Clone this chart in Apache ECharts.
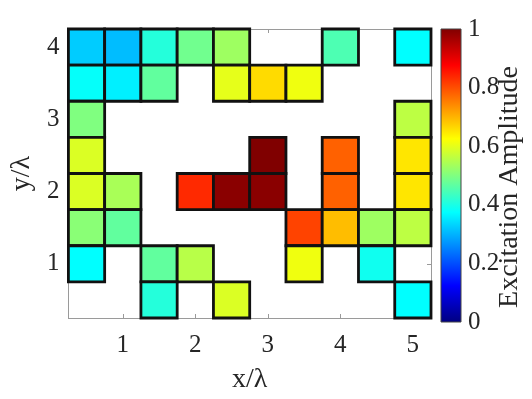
<!DOCTYPE html>
<html>
<head>
<meta charset="utf-8">
<script src="https://cdn.jsdelivr.net/npm/echarts@6/dist/echarts.min.js"></script>
<style>
html, body { margin: 0; padding: 0; background: #fff; }
#chart { width: 532px; height: 399px; }
</style>
</head>
<body>
<div id="chart"></div>
<script>
// cell centres (in wavelengths) and amplitudes, rows from top (y=4) to bottom (y=0.5)
var xCenters = [0.5, 1.0, 1.5, 2.0, 2.5, 3.0, 3.5, 4.0, 4.5, 5.0];
var yCenters = [4.0, 3.5, 3.0, 2.5, 2.0, 1.5, 1.0, 0.5];
var amplitude = [
    [0.325, 0.31, 0.41, 0.485, 0.53, null, null, 0.45, null, 0.375],
    [0.38, 0.36, 0.47, null, 0.60, 0.66, 0.61, null, null, null],
    [0.50, null, null, null, null, null, null, null, null, 0.56],
    [0.59, null, null, null, null, 1.00, null, 0.78, null, 0.65],
    [0.59, 0.54, null, 0.835, 0.99, 0.99, null, 0.78, null, 0.65],
    [0.51, 0.47, null, null, null, null, 0.81, 0.69, 0.53, 0.56],
    [0.375, null, 0.47, 0.555, null, null, 0.61, null, 0.39, null],
    [null, null, 0.41, null, 0.59, null, null, null, null, 0.375]
];
var xTicks = [1, 2, 3, 4, 5];
var yTicks = [1, 2, 3, 4];
var jet = ['#000080', '#0000ff', '#0080ff', '#00ffff', '#80ff80', '#ffff00', '#ff8000', '#ff0000', '#800000'];

var cells = [];
for (var r = 0; r < amplitude.length; r++) {
    for (var c = 0; c < amplitude[r].length; c++) {
        if (amplitude[r][c] !== null) cells.push([xCenters[c], yCenters[r], amplitude[r][c]]);
    }
}

var font = 'Liberation Serif';
var textColor = '#262626';
var boxColor = '#9a9a9a';

var gradStops = jet.map(function (col, i) {
    return { offset: i / (jet.length - 1), color: col };
});

var myChart = echarts.init(document.getElementById('chart'));

function boxAxis(extra) {
    var a = {
        gridIndex: 0,
        type: 'value',
        axisLine: { show: true, lineStyle: { color: boxColor, width: 1 } },
        axisTick: { show: true, inside: true, length: 4, lineStyle: { color: boxColor } },
        axisLabel: { show: false },
        splitLine: { show: false }
    };
    for (var k in extra) a[k] = extra[k];
    return a;
}

var option = {
    animation: false,
    backgroundColor: '#fff',
    grid: [
        { left: 62, top: 29, width: 369, height: 293 },
        { left: 441, top: 29, width: 20, height: 293 }
    ],
    graphic: [
        {
            type: 'text',
            x: 510,
            y: 187,
            rotation: Math.PI / 2,
            style: {
                text: 'Excitation Amplitude',
                font: '28px "Liberation Serif"',
                fill: textColor,
                textAlign: 'center',
                textVerticalAlign: 'middle'
            }
        }
    ],
    xAxis: [
        boxAxis({
            position: 'bottom', min: 0.25, max: 5.25,
            axisTick: { show: true, inside: true, length: 4, customValues: xTicks, lineStyle: { color: boxColor } },
            axisLabel: { show: true, customValues: xTicks, margin: 15, fontFamily: font, fontSize: 25, color: textColor },
            name: 'x/λ', nameLocation: 'middle', nameGap: 48,
            nameTextStyle: { fontFamily: font, fontSize: 28, color: textColor }
        }),
        boxAxis({
            position: 'top', min: 0.25, max: 5.25,
            axisTick: { show: true, inside: true, length: 4, customValues: xTicks, lineStyle: { color: boxColor } }
        }),
        { gridIndex: 1, type: 'value', min: 0, max: 1, show: false }
    ],
    yAxis: [
        boxAxis({
            position: 'left', min: 0.25, max: 4.25,
            axisTick: { show: true, inside: true, length: 4, customValues: yTicks, lineStyle: { color: boxColor } },
            axisLabel: { show: true, customValues: yTicks, margin: 9, fontFamily: font, fontSize: 25, color: textColor },
            name: 'y/λ', nameLocation: 'middle', nameGap: 31, nameRotate: 90,
            nameTextStyle: { fontFamily: font, fontSize: 28, color: textColor }
        }),
        boxAxis({
            position: 'right', min: 0.25, max: 4.25,
            axisTick: { show: true, inside: true, length: 4, customValues: yTicks, lineStyle: { color: boxColor } }
        }),
        {
            gridIndex: 1, type: 'value', position: 'right', min: 0, max: 1, interval: 0.2,
            axisLine: { show: false },
            axisTick: { show: false },
            splitLine: { show: false },
            axisLabel: { margin: 7, fontFamily: font, fontSize: 25, color: textColor }
        }
    ],
    visualMap: {
        type: 'continuous',
        show: false,
        min: 0,
        max: 1,
        dimension: 2,
        seriesIndex: 0,
        inRange: { color: jet }
    },
    series: [
        {
            type: 'custom',
            xAxisIndex: 0,
            yAxisIndex: 0,
            clip: false,
            data: cells,
            renderItem: function (params, api) {
                var x = api.value(0), y = api.value(1);
                var p0 = api.coord([x - 0.25, y + 0.25]);
                var p1 = api.coord([x + 0.25, y - 0.25]);
                return {
                    type: 'rect',
                    shape: { x: p0[0], y: p0[1], width: p1[0] - p0[0], height: p1[1] - p0[1] },
                    style: { fill: api.visual('color'), stroke: '#111', lineWidth: 2.8 }
                };
            }
        },
        {
            type: 'custom',
            xAxisIndex: 2,
            yAxisIndex: 2,
            data: [[0, 0]],
            renderItem: function (params, api) {
                var p0 = api.coord([0, 1]);
                var p1 = api.coord([1, 0]);
                return {
                    type: 'rect',
                    shape: { x: p0[0], y: p0[1], width: p1[0] - p0[0], height: p1[1] - p0[1] },
                    style: {
                        fill: { type: 'linear', x: 0, y: 1, x2: 0, y2: 0, colorStops: gradStops },
                        stroke: '#444', lineWidth: 1
                    }
                };
            }
        }
    ]
};

myChart.setOption(option);
</script>
</body>
</html>
